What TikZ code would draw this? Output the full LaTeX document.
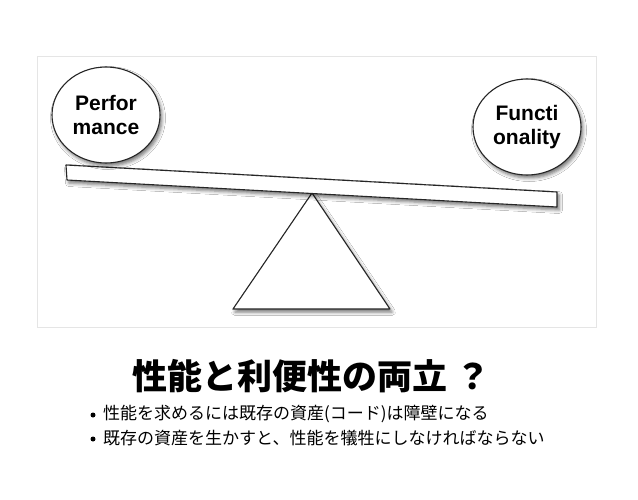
\documentclass[tikz,border=0pt]{standalone}
\usepackage{fontspec}
\setmainfont{Liberation Sans}
\newfontfamily\cjk{Noto Sans CJK JP}
\usetikzlibrary{shapes.geometric,shadows.blur}
\tikzset{
  panel/.style={draw=black!10, line width=1pt, fill=white},
  shade/.style={blur shadow={shadow xshift=2pt, shadow yshift=-3pt, shadow blur radius=3.5pt, shadow opacity=55}},
  ball/.style={ellipse, draw=black!85, line width=1.1pt, fill=white, minimum width=108pt, minimum height=96pt, inner sep=0pt, align=center, font=\fontsize{21}{25}\selectfont\bfseries, shade},
  part/.style={draw=black!85, line width=1.1pt, fill=white, line join=round, shade},
  titletext/.style={font=\cjk\fontsize{35}{40}\selectfont\bfseries},
  bullettext/.style={font=\cjk\fontsize{17}{20}\selectfont, anchor=west, inner sep=0pt},
  dot/.style={circle, fill=black, inner sep=0pt, minimum size=5pt}
}
\begin{document}
\begin{tikzpicture}[x=1pt,y=-1pt]
\useasboundingbox (0,0) rectangle (638,499);
\fill[white] (0,0) rectangle (638,499);
\node[panel, minimum width=559pt, minimum height=271pt, anchor=north west, inner sep=0pt] (frame) at (37,56) {};
% fulcrum
\coordinate (apex) at (312,193);
\coordinate (bl) at (233,309);
\coordinate (br) at (390,309);
\path[part] (apex) -- (br) -- (bl) -- cycle;
% beam
\coordinate (b1) at (66,165);
\coordinate (b2) at (557,192);
\coordinate (b3) at (557,207);
\coordinate (b4) at (67,180);
\path[part] (b1) -- (b2) -- (b3) -- (b4) -- cycle;
% balls
\node[ball] (perf) at (106,115) {Perfor\\[-1pt]mance};
\node[ball] (func) at (527,127) {Functi\\[-1pt]onality};
% texts
\node[titletext] (title) at (312,376) {性能と利便性の両立 ？};
\node[dot] (d1) at (93,415) {};
\node[bullettext] (t1) at (103,414) {性能を求めるには既存の資産(コード)は障壁になる};
\node[dot] (d2) at (93,439) {};
\node[bullettext] (t2) at (103,438) {既存の資産を生かすと、性能を犠牲にしなければならない};
\end{tikzpicture}
\end{document}
